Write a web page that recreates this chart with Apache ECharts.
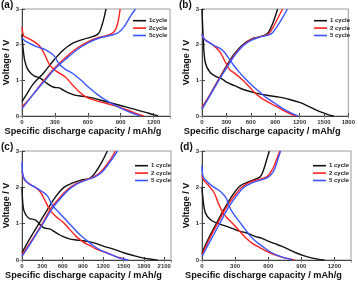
<!DOCTYPE html>
<html><head><meta charset="utf-8">
<script src="https://cdn.jsdelivr.net/npm/echarts@6/dist/echarts.min.js"></script>
<style>html,body{margin:0;padding:0;background:#fff}#c{width:358px;height:281px}</style>
</head><body><div id="c"></div>
<script>
// ---------- data: [capacity mAh/g, voltage V] ----------
const panelLabels = ['(a)', '(b)', '(c)', '(d)'];
const xMax = [1350, 1800, 2200, 1350];
const xInterval = 300;
const yTicks = [0, 1, 2, 3];
const legendNamesA = ['1cycle', '2cycle', '5cycle'];
const legendNames = ['1 cycle', '2 cycle', '5 cycle'];
const xTitle = 'Specific discharge capacity / mAh/g';
const yTitle = 'Voltage / V';

// panel (a)
const a1Dis = [[0,2.3],[8,1.95],[25,1.55],[50,1.32],[80,1.2],[115,1.12],[150,1.08],[185,1.02],[225,0.92],[270,0.83],[300,0.8],[340,0.79],[380,0.72],[430,0.64],[490,0.58],[560,0.55],[650,0.5],[770,0.4],[890,0.3],[1015,0.2],[1130,0.1],[1200,0.04],[1240,0.01]];
const a1Chg = [[0,0.4],[50,0.65],[103,0.9],[195,1.2],[286,1.55],[377,1.85],[468,2.05],[560,2.15],[650,2.23],[700,2.32],[730,2.55],[752,2.8],[766,3.0]];
const a2Dis = [[0,2.5],[15,2.25],[43,2.2],[103,2.1],[164,1.95],[210,1.7],[255,1.42],[316,1.25],[392,1.1],[453,0.9],[514,0.7],[575,0.55],[650,0.45],[772,0.35],[894,0.24],[1000,0.12],[1070,0.04],[1110,0.0]];
const a2Chg = [[0,0.25],[100,0.6],[200,1.0],[300,1.35],[400,1.65],[500,1.9],[600,2.08],[700,2.2],[800,2.28],[850,2.4],[880,2.7],[895,3.0]];
const a5Dis = [[0,2.2],[30,2.1],[130,1.95],[220,1.85],[290,1.7],[340,1.45],[400,1.3],[460,1.2],[540,1.0],[610,0.8],[690,0.6],[760,0.45],[850,0.3],[950,0.15],[1030,0.05],[1080,0.0]];
const a5Chg = [[0,0.2],[100,0.6],[210,1.0],[310,1.35],[420,1.65],[520,1.9],[620,2.08],[720,2.2],[820,2.27],[880,2.34],[930,2.5],[990,2.8],[1035,3.0]];

// panel (b)
const b1Dis = [[0,3.0],[15,2.2],[40,1.5],[100,1.22],[180,1.1],[240,1.05],[300,0.95],[400,0.85],[500,0.75],[650,0.65],[800,0.58],[950,0.53],[1050,0.48],[1200,0.38],[1330,0.25],[1450,0.12],[1550,0.04],[1620,0.0]];
const b1Chg = [[0,0.2],[100,0.6],[200,1.0],[300,1.4],[400,1.75],[500,2.0],[600,2.15],[700,2.22],[800,2.3],[870,2.6],[930,3.0]];
const b2Dis = [[0,2.3],[30,2.15],[130,2.0],[220,1.8],[290,1.5],[340,1.3],[400,1.2],[480,1.05],[570,0.85],[650,0.65],[730,0.5],[820,0.38],[930,0.25],[1030,0.12],[1120,0.03],[1160,0.0]];
const b2Chg = [[0,0.25],[100,0.6],[200,1.0],[310,1.4],[410,1.75],[510,2.0],[610,2.15],[710,2.22],[820,2.3],[900,2.6],[990,3.0]];
const b5Dis = [[0,2.3],[30,2.15],[130,2.0],[250,1.85],[320,1.65],[380,1.45],[450,1.25],[530,1.05],[620,0.85],[720,0.65],[800,0.5],[900,0.35],[1000,0.2],[1100,0.08],[1180,0.0]];
const b5Chg = [[0,0.2],[100,0.58],[200,0.98],[310,1.38],[410,1.72],[510,1.98],[610,2.13],[710,2.21],[850,2.3],[920,2.5],[990,2.75],[1050,3.0]];

// panel (c)
const c1Dis = [[0,2.0],[15,1.5],[40,1.3],[100,1.15],[200,1.1],[280,0.95],[330,0.88],[420,0.85],[460,0.8],[530,0.72],[600,0.65],[700,0.58],[800,0.55],[900,0.53],[1000,0.5],[1100,0.45],[1200,0.38],[1350,0.3],[1500,0.2],[1650,0.12],[1800,0.05],[1950,0.01],[2000,0.0]];
const c1Chg = [[0,0.2],[120,0.6],[250,1.0],[380,1.4],[500,1.75],[620,2.0],[750,2.12],[870,2.2],[1000,2.25],[1080,2.4],[1180,2.7],[1260,3.0]];
const c2Dis = [[0,2.45],[40,2.2],[150,2.05],[260,1.9],[350,1.6],[420,1.35],[500,1.2],[600,1.05],[700,0.85],[800,0.65],[900,0.5],[1000,0.4],[1100,0.3],[1250,0.2],[1380,0.1],[1500,0.03],[1550,0.0]];
const c2Chg = [[0,0.15],[130,0.5],[300,1.0],[420,1.4],[550,1.7],[680,1.95],[800,2.1],[930,2.2],[1050,2.28],[1150,2.4],[1280,2.7],[1380,3.0]];
const c5Dis = [[0,2.7],[20,2.3],[100,2.1],[200,2.0],[300,1.88],[380,1.75],[450,1.5],[550,1.3],[650,1.1],[750,0.9],[850,0.7],[950,0.55],[1050,0.4],[1150,0.28],[1270,0.18],[1400,0.08],[1500,0.02],[1570,0.0]];
const c5Chg = [[0,0.1],[140,0.5],[310,1.0],[440,1.4],[570,1.7],[700,1.95],[820,2.1],[950,2.2],[1070,2.28],[1170,2.4],[1300,2.7],[1410,3.0]];

// panel (d)
const d1Dis = [[0,2.0],[5,1.8],[30,1.3],[80,1.1],[150,1.0],[250,0.9],[330,0.8],[400,0.75],[480,0.65],[540,0.6],[600,0.52],[660,0.45],[720,0.38],[780,0.3],[850,0.2],[920,0.12],[1000,0.05],[1080,0.01],[1110,0.0]];
const d1Chg = [[0,0.2],[60,0.6],[130,1.0],[200,1.4],[280,1.8],[350,2.05],[420,2.15],[480,2.22],[530,2.3],[560,2.5],[590,2.8],[610,3.0]];
const d2Dis = [[0,2.35],[15,2.2],[60,2.05],[110,1.85],[150,1.55],[190,1.3],[230,1.15],[280,1.0],[340,0.8],[400,0.6],[460,0.45],[530,0.33],[600,0.22],[680,0.12],[760,0.05],[840,0.0]];
const d2Chg = [[0,0.15],[70,0.6],[140,1.0],[210,1.4],[290,1.75],[360,2.0],[440,2.15],[520,2.22],[590,2.3],[640,2.5],[680,2.8],[705,3.0]];
const d5Dis = [[0,2.6],[10,2.3],[50,2.15],[110,2.0],[170,1.88],[220,1.7],[250,1.45],[290,1.25],[340,1.05],[390,0.85],[440,0.65],[500,0.48],[560,0.35],[620,0.22],[690,0.12],[760,0.05],[820,0.0]];
const d5Chg = [[0,0.1],[70,0.5],[160,1.0],[230,1.4],[310,1.75],[380,2.0],[450,2.12],[530,2.2],[600,2.28],[650,2.45],[690,2.8],[712,3.0]];

const panels = [
  [[a1Dis, a1Chg], [a2Dis, a2Chg], [a5Dis, a5Chg]],
  [[b1Dis, b1Chg], [b2Dis, b2Chg], [b5Dis, b5Chg]],
  [[c1Dis, c1Chg], [c2Dis, c2Chg], [c5Dis, c5Chg]],
  [[d1Dis, d1Chg], [d2Dis, d2Chg], [d5Dis, d5Chg]]
];

// ---------- layout ----------
const colors = ['#111111', '#ff1f1f', '#3a55ff'];
const font = '"Liberation Sans", Arial, sans-serif';
const grids = [
  {left: 22, top: 9, width: 148, height: 107},
  {left: 202, top: 9, width: 147, height: 107},
  {left: 22, top: 151, width: 149, height: 110},
  {left: 202, top: 151, width: 149, height: 110}
];
const legendPos = [
  {left: 128, top: 12, names: legendNamesA},
  {left: 309, top: 12, names: legendNames},
  {left: 130, top: 157, names: legendNames},
  {left: 308, top: 157, names: legendNames}
];
const labelPos = [[1, 0], [179, 0], [1, 142], [180, 142]];

const option = {
  animation: false,
  grid: grids.map(g => Object.assign({show: true, borderColor: '#9a9a9a', borderWidth: 1, backgroundColor: '#fff'}, g)),
  xAxis: [], yAxis: [], series: [], legend: [], graphic: []
};

panels.forEach((panel, i) => {
  const names = legendPos[i].names;
  option.xAxis.push({
    type: 'value', gridIndex: i, min: 0, max: xMax[i], interval: xInterval,
    name: xTitle, nameLocation: 'middle', nameGap: 11,
    nameTextStyle: {fontFamily: font, fontWeight: 'bold', fontSize: 9.2, color: '#111', padding: [0, 26, 0, 0]},
    axisLine: {lineStyle: {color: '#444', width: 1}},
    axisTick: {inside: true, length: 3, lineStyle: {color: '#444'}},
    axisLabel: {fontFamily: font, fontWeight: 'bold', fontSize: 6, color: '#333', margin: 3,
      showMaxLabel: xMax[i] % xInterval === 0, formatter: v => String(v)},
    splitLine: {show: false}
  });
  option.yAxis.push({
    type: 'value', gridIndex: i, min: 0, max: 3, interval: 1,
    name: yTitle, nameLocation: 'middle', nameGap: 11,
    nameTextStyle: {fontFamily: font, fontWeight: 'bold', fontSize: 9, color: '#111'},
    axisLine: {lineStyle: {color: '#444', width: 1}},
    axisTick: {inside: true, length: 3, lineStyle: {color: '#444'}},
    axisLabel: {fontFamily: font, fontWeight: 'bold', fontSize: 6, color: '#333', margin: 3,
      formatter: v => yTicks.indexOf(v) >= 0 ? String(v) : ''},
    splitLine: {show: false}
  });
  panel.forEach((pair, k) => {
    pair.forEach(data => {
      option.series.push({
        type: 'line', name: names[k], xAxisIndex: i, yAxisIndex: i,
        data: data, showSymbol: false, symbol: 'none', smooth: 0.35,
        lineStyle: {color: colors[k], width: 1.4}, itemStyle: {color: colors[k]}
      });
    });
  });
  option.legend.push({
    left: legendPos[i].left, top: legendPos[i].top, orient: 'vertical',
    data: names, icon: 'rect', itemWidth: 13, itemHeight: 1.6, itemGap: 0,
    selectedMode: false,
    textStyle: {fontFamily: font, fontWeight: 'bold', fontSize: 6, color: '#222', lineHeight: 7.4, padding: [0, 0, 0, -2]}
  });
  option.graphic.push({
    type: 'text', left: labelPos[i][0], top: labelPos[i][1],
    style: {text: panelLabels[i], font: 'bold 10px ' + font, fill: '#111'}
  });
});
// top / right tick axes
panels.forEach((p, i) => {
  option.xAxis.push({type: 'value', gridIndex: i, position: 'top', min: 0, max: xMax[i], interval: xInterval,
    axisLine: {show: false}, axisTick: {inside: true, length: 2.5, lineStyle: {color: '#888'}},
    axisLabel: {show: false}, splitLine: {show: false}});
  option.yAxis.push({type: 'value', gridIndex: i, position: 'right', min: 0, max: 3, interval: 1,
    axisLine: {show: false}, axisTick: {inside: true, length: 2.5, lineStyle: {color: '#888'}},
    axisLabel: {show: false}, splitLine: {show: false}});
});

const chart = echarts.init(document.getElementById('c'), null, {renderer: 'canvas'});
chart.setOption(option);
</script>
</body></html>
